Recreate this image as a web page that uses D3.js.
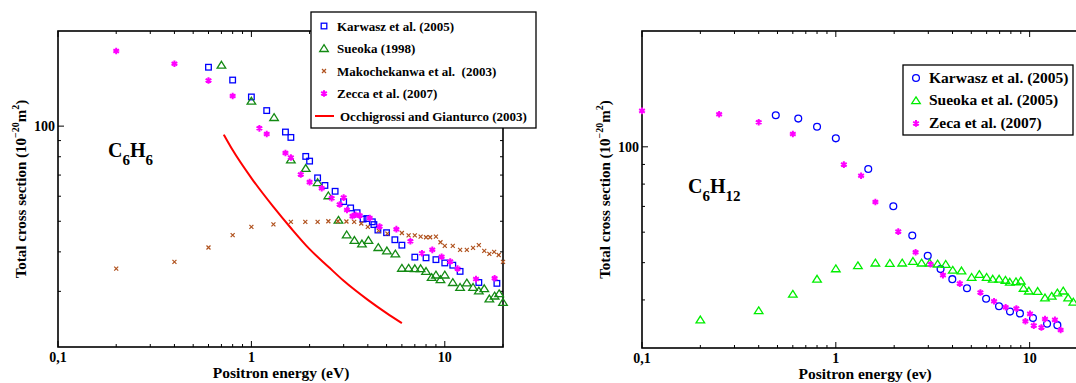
<html lang='eng'>
<head>
<script src="https://d3js.org/d3.v7.min.js" charset="utf-8"></script>
<style>
  body { margin: 0; background: #fff; }
  svg text { font-family: "Liberation Serif", "DejaVu Serif", "Times New Roman", serif; font-weight: bold; fill: #000; }
</style>
</head>
<body>
<script>
// ---- data: left panel (C6H6) ----
var karwaszC6H6 = [[0.6,153.6],[0.8,139.9],[1.0,123.7],[1.2,112],[1.5,95.8],[1.6,92.1],[1.91,80.2],[2.0,77.5],
  [2.2,68.6],[2.4,64.9],[2.71,62.2],[3.0,57.7],[3.26,55.1],[3.52,53.2],[3.78,50.8],[3.96,51],[4.22,49.8],[4.3,48.8],
  [4.51,46.9],[5.0,46],[5.52,43.7],[6.0,42],[7.0,38.5],[8.0,38.3],[9.0,37.8],[10,36.9],[11,36.3],[12,34.7],[15,32],[18.6,31.8]];
var sueokaC6H6 = [[0.7,156],[1.0,120],[1.31,106.5],[1.6,78.2],[1.91,73.5],[2.2,66.3],[2.5,60.2],[2.82,50.4],[3.11,45.3],
  [3.41,43.5],[3.73,42.4],[4.03,43.5],[4.53,41.3],[5.02,40.3],[5.55,39.4],[6.0,35.5],[6.5,35.5],[7.0,35.4],[7.5,35.4],
  [8.0,34.7],[8.55,33.2],[9.0,33.8],[9.5,32.7],[10,33.8],[11,32],[12,30.9],[13,31.9],[14,30.9],[15,30.1],[16,30.6],
  [17,28.4],[18.1,29],[19.1,29.5],[20,27.7]];
var makoC6H6 = [[0.2,35.4],[0.4,37.2],[0.6,41.3],[0.8,45.2],[1.0,48],[1.3,48.9],[1.6,49.8],[1.9,49.8],[2.2,49.8],[2.5,50],
  [2.8,50],[3.1,49.9],[3.4,49.8],[3.7,49.2],[4.0,48],[4.55,46.7],[5.05,45.7],[6.0,45.9],[6.5,45.1],[7.0,45.1],[7.5,44.7],
  [8.0,44.5],[8.4,44.5],[9.0,44.7],[9.5,42.9],[10,41.8],[11,41.8],[12,40.6],[13,40.6],[14,41.2],[15,42],[16,40.3],
  [17,39.4],[18,40],[19,39.1],[20,37.2]];
var zeccaC6H6 = [[0.2,172.8],[0.4,157.5],[0.6,139.5],[0.8,124.6],[1.1,98.4],[1.2,94.4],[1.5,82.2],[1.6,79.6],[1.8,70.3],
  [2.0,66.5],[2.31,63.6],[2.6,59.1],[2.86,56.5],[3.0,59.4],[3.12,54.3],[3.33,51.9],[3.46,52.4],[3.63,52.1],[4.09,51.2],
  [4.6,48.1],[5.62,47.2],[6.64,43.2],[7.62,39.6],[8.62,40.6],[9.63,38.6],[10.67,37.3],[11.64,35.4],[14.5,32.8],[18.1,33]];
var occhiC6H6 = [[0.72,94],[0.8,84],[1.0,68.5],[1.3,55.5],[1.6,47.6],[2.0,40.8],[2.5,35.9],[3.0,32.4],[4.0,28.2],
  [5.0,25.6],[6.0,23.8]];

// ---- data: right panel (C6H12) ----
var karwaszC6H12 = [[0.49,120.8],[0.64,118.4],[0.8,112.8],[1.0,105.2],[1.47,87.6],[1.98,70.1],[2.48,58.8],[2.98,52.1],
  [3.47,48.1],[3.99,45.3],[4.75,42.9],[5.96,40.3],[6.95,38.5],[7.92,37.3],[8.91,36.9],[10.4,35.9],[12.3,34.7],[13.9,34.4]];
var sueokaC6H12 = [[0.2,35.5],[0.4,37.5],[0.6,41.4],[0.8,45.3],[1.0,48.2],[1.3,49.1],[1.6,49.9],[1.9,49.8],[2.2,49.9],
  [2.5,50.4],[2.77,49.9],[3.05,49.9],[3.35,49.6],[3.69,49.5],[4.01,47.8],[4.45,47.6],[5.02,45.8],[5.5,46.6],[6.0,45.8],
  [6.45,45.3],[6.96,45.3],[7.5,45],[7.9,44.5],[8.5,44.6],[9.0,44.8],[9.3,42.9],[9.9,42.2],[11,42.1],[12,40.5],[13,40.9],
  [13.9,41.7],[14.9,42.2],[15.8,40.5],[16.8,39.5]];
var zecaC6H12 = [[0.1,124],[0.25,121.5],[0.4,115.8],[0.6,108],[1.1,89.9],[1.35,84.1],[1.6,71.9],[2.1,60.2],[2.58,53.2],
  [3.08,49.5],[3.57,46.4],[4.36,44.1],[5.57,41.8],[6.55,39.7],[7.52,38.3],[8.54,38],[9.51,35.2],[10.04,36.8],[10.5,34.3],
  [11.5,33.9],[12.0,35.7],[13.5,35.5],[14.45,33.4]];

// ---- tick labels ----
var xTickValues = [0.1, 1, 10];
var xTickLabels = ["0,1", "1", "10"];
var yTickValues = [100];
var yTickLabels = ["100"];

var width = 1076, height = 383;
var svg = d3.select("body").append("svg").attr("width", width).attr("height", height)
  .attr("font-family", "Liberation Serif, DejaVu Serif, serif");

// marker shapes
function marker(g, type, color, cx, cy) {
  if (type == "square") {
    g.append("rect").attr("x", cx - 2.8).attr("y", cy - 2.8).attr("width", 5.6).attr("height", 5.6)
      .attr("fill", "none").attr("stroke", color).attr("stroke-width", 1.3);
  } else if (type == "triangle") {
    g.append("path").attr("d", "M" + cx + "," + (cy - 3.8) + "L" + (cx + 4.3) + "," + (cy + 3) + "L" + (cx - 4.3) + "," + (cy + 3) + "Z")
      .attr("fill", "none").attr("stroke", color).attr("stroke-width", 1.3);
  } else if (type == "circle") {
    g.append("circle").attr("cx", cx).attr("cy", cy).attr("r", 3.4)
      .attr("fill", "none").attr("stroke", color).attr("stroke-width", 1.3);
  } else if (type == "cross") {
    g.append("path").attr("d", "M" + (cx - 2) + "," + (cy - 2) + "L" + (cx + 2) + "," + (cy + 2) + "M" + (cx - 2) + "," + (cy + 2) + "L" + (cx + 2) + "," + (cy - 2))
      .attr("stroke", color).attr("stroke-width", 1.2);
  } else if (type == "star") {
    g.append("path").attr("d", d3.symbol().type(d3.symbolAsterisk).size(30)())
      .attr("transform", "translate(" + cx + "," + cy + ")")
      .attr("fill", "none").attr("stroke", color).attr("stroke-width", 2);
  }
}

function drawPanel(p) {
  var x = d3.scaleLog().domain([0.1, 20]).range([p.x0, p.x1]);
  var y = d3.scaleLog().domain([p.ymin, 200]).range([p.y1, p.y0]);
  var g = svg.append("g");

  // ticks (inward, all four sides)
  var xMinor = [], yMinor = [];
  [0.1, 1, 10].forEach(function(d) { for (var k = 2; k <= 9; k++) if (d * k <= 20) xMinor.push(d * k); });
  [10, 100].forEach(function(d) { for (var k = 1; k <= 9; k++) { var v = d * k; if (v > p.ymin && v < 200 && v != 100) yMinor.push(v); } });

  xMinor.forEach(function(v) {
    g.append("line").attr("x1", x(v)).attr("x2", x(v)).attr("y1", p.y1).attr("y2", p.y1 - 3).attr("stroke", "#000");
    g.append("line").attr("x1", x(v)).attr("x2", x(v)).attr("y1", p.y0).attr("y2", p.y0 + 3).attr("stroke", "#000");
  });
  xTickValues.forEach(function(v, i) {
    g.append("line").attr("x1", x(v)).attr("x2", x(v)).attr("y1", p.y1).attr("y2", p.y1 - 6).attr("stroke", "#000");
    g.append("line").attr("x1", x(v)).attr("x2", x(v)).attr("y1", p.y0).attr("y2", p.y0 + 6).attr("stroke", "#000");
    g.append("text").attr("x", x(v)).attr("y", p.y1 + 15).attr("text-anchor", "middle")
      .attr("font-size", "14px").text(xTickLabels[i]);
  });
  yMinor.forEach(function(v) {
    g.append("line").attr("x1", p.x0).attr("x2", p.x0 + 3).attr("y1", y(v)).attr("y2", y(v)).attr("stroke", "#000");
    g.append("line").attr("x1", p.x1).attr("x2", p.x1 - 3).attr("y1", y(v)).attr("y2", y(v)).attr("stroke", "#000");
  });
  yTickValues.forEach(function(v, i) {
    g.append("line").attr("x1", p.x0).attr("x2", p.x0 + 6).attr("y1", y(v)).attr("y2", y(v)).attr("stroke", "#000");
    g.append("line").attr("x1", p.x1).attr("x2", p.x1 - 6).attr("y1", y(v)).attr("y2", y(v)).attr("stroke", "#000");
    g.append("text").attr("x", p.x0 - 3).attr("y", y(v) + 5).attr("text-anchor", "end")
      .attr("font-size", "14px").text(yTickLabels[i]);
  });

  // frame
  g.append("rect").attr("x", p.x0).attr("y", p.y0).attr("width", p.x1 - p.x0).attr("height", p.y1 - p.y0)
    .attr("fill", "none").attr("stroke", "#000").attr("stroke-width", 1.6);

  // axis labels
  g.append("text").attr("x", p.xlabX).attr("y", p.y1 + 31)
    .attr("text-anchor", "middle").attr("font-size", "15.5px").text(p.xlabel);
  var yl = g.append("text").attr("transform", "translate(" + p.ylabX + "," + ((p.y0 + p.y1) / 2) + ") rotate(-90)")
    .attr("text-anchor", "middle").attr("font-size", "15px");
  yl.append("tspan").text("Total cross section (10");
  yl.append("tspan").attr("font-size", "10px").attr("dy", -7).text("\u221220");
  yl.append("tspan").attr("dy", 7).text("m");
  yl.append("tspan").attr("font-size", "10px").attr("dy", -7).text("2");
  yl.append("tspan").attr("dy", 7).text(")");

  // molecule label
  var ml = g.append("text").attr("x", p.molX).attr("y", p.molY).attr("font-size", "20px");
  p.mol.forEach(function(part) {
    if (part.sub) ml.append("tspan").attr("font-size", "15px").attr("dy", 8).text(part.t);
    else ml.append("tspan").attr("dy", part.up ? -8 : 0).text(part.t);
  });

  // series
  p.series.forEach(function(s) {
    if (s.type == "line") {
      g.append("path").datum(s.data)
        .attr("d", d3.line().curve(d3.curveMonotoneX).x(function(d) { return x(d[0]); }).y(function(d) { return y(d[1]); }))
        .attr("fill", "none").attr("stroke", s.color).attr("stroke-width", 2);
    } else {
      s.data.forEach(function(d) { marker(g, s.type, s.color, x(d[0]), y(d[1])); });
    }
  });

  // legend
  var L = p.legend;
  g.append("rect").attr("x", L.x).attr("y", L.y).attr("width", L.w).attr("height", L.h)
    .attr("fill", "#fff").attr("stroke", "#000").attr("stroke-width", 1.3);
  p.series.forEach(function(s, i) {
    var ly = L.y + L.first + i * L.step;
    if (s.type == "line") {
      g.append("line").attr("x1", L.x + 4).attr("x2", L.x + 23).attr("y1", ly).attr("y2", ly)
        .attr("stroke", s.color).attr("stroke-width", 2);
      g.append("text").attr("x", L.x + 29).attr("y", ly + 4.5).attr("font-size", L.fs).style("white-space", "pre").text(s.name);
    } else {
      marker(g, s.type, s.color, L.x + L.mx, ly);
      g.append("text").attr("x", L.x + L.tx).attr("y", ly + 4.5).attr("font-size", L.fs).style("white-space", "pre").text(s.name);
    }
  });
}

drawPanel({
  x0: 58, x1: 503, y0: 31, y1: 347, ymin: 20,
  xlabel: "Positron energy (eV)", xlabX: 281, ylabX: 26,
  molX: 108, molY: 157, mol: [{t: "C"}, {t: "6", sub: true}, {t: "H", up: true}, {t: "6", sub: true}],
  series: [
    {name: "Karwasz et al. (2005)", type: "square", color: "#0000ff", data: karwaszC6H6},
    {name: "Sueoka (1998)", type: "triangle", color: "#138a13", data: sueokaC6H6},
    {name: "Makochekanwa et al.  (2003)", type: "cross", color: "#b0521e", data: makoC6H6},
    {name: "Zecca et al. (2007)", type: "star", color: "#ff00ff", data: zeccaC6H6},
    {name: "Occhigrossi and Gianturco (2003)", type: "line", color: "#ff0000", data: occhiC6H6}
  ],
  legend: {x: 311, y: 12, w: 225, h: 116, first: 14, step: 22.5, mx: 13, tx: 26, fs: "13px"}
});

drawPanel({
  x0: 642, x1: 1088, y0: 31, y1: 348, ymin: 30,
  xlabel: "Positron energy (ev)", xlabX: 865, ylabX: 610,
  molX: 688, molY: 193, mol: [{t: "C"}, {t: "6", sub: true}, {t: "H", up: true}, {t: "12", sub: true}],
  series: [
    {name: "Karwasz et al. (2005)", type: "circle", color: "#0000ff", data: karwaszC6H12},
    {name: "Sueoka et al. (2005)", type: "triangle", color: "#00ee00", data: sueokaC6H12},
    {name: "Zeca et al. (2007)", type: "star", color: "#ff00ff", data: zecaC6H12}
  ],
  legend: {x: 903, y: 65, w: 170, h: 70, first: 13, step: 22.7, mx: 13, tx: 26, fs: "15.5px"}
});
</script>
</body>
</html>
